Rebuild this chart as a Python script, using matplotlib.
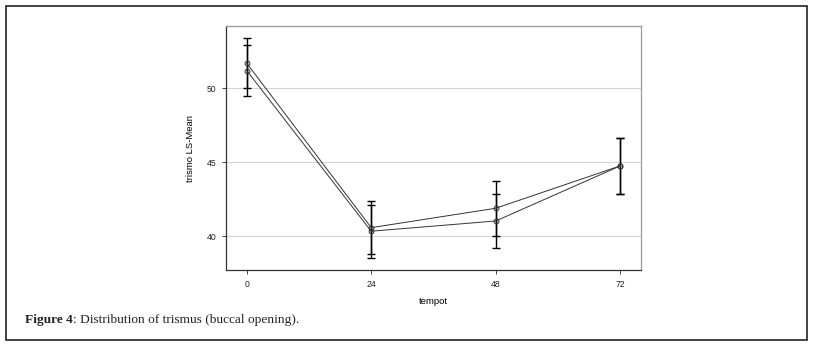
import matplotlib
matplotlib.use("Agg")
import matplotlib.pyplot as plt
from matplotlib.patches import Rectangle

# LS-means of trismus per time point, two groups
tempot = [0, 24, 48, 72]
mean_a = [51.69, 40.58, 41.89, 44.75]
mean_b = [51.19, 40.34, 41.03, 44.75]
err_a = [1.7, 1.8, 1.85, 1.9]
err_b = [1.7, 1.8, 1.85, 1.9]
yticks = [40, 45, 50]

plt.rcParams['font.family'] = ['Liberation Sans', 'DejaVu Sans']

fig = plt.figure(figsize=(8.14, 3.45), dpi=100)
ax = fig.add_axes([0.2776, 0.2174, 0.5098, 0.7072])

for m, e in [(mean_a, err_a), (mean_b, err_b)]:
    ax.errorbar(tempot, m, yerr=e, fmt='none', ecolor='black',
                elinewidth=1.0, capsize=3, capthick=1.0, zorder=2)
    ax.plot(tempot, m, color='#333333', linewidth=0.7, marker='o',
            markersize=3.5, markerfacecolor='none', markeredgecolor='#333333',
            markeredgewidth=0.7, zorder=3)

ax.set_xlim(-4, 76)
ax.set_ylim(37.72, 54.2)
ax.set_xticks(tempot)
ax.set_yticks(yticks)
ax.yaxis.grid(True, color='#d4d4d4', linewidth=0.8)
ax.set_axisbelow(True)
ax.tick_params(labelsize=6.2, length=3, width=0.6, pad=4, colors='#222222')
ax.set_xlabel('tempot', fontsize=6.8, labelpad=6)
ax.set_ylabel('trismo LS-Mean', fontsize=6.8, labelpad=8)
for s in ['left', 'bottom']:
    ax.spines[s].set_color('#333333')
    ax.spines[s].set_linewidth(0.9)
for s in ['top', 'right']:
    ax.spines[s].set_color('#999999')
    ax.spines[s].set_linewidth(0.9)

# outer frame
fig.patches.append(Rectangle((0.0074, 0.0145), 0.984, 0.968, transform=fig.transFigure,
                             fill=False, edgecolor='#222222', linewidth=1.2))

# caption with bold prefix
r = fig.canvas.get_renderer()
t1 = fig.text(0.031, 0.072, 'Figure 4', fontsize=9.6, fontweight='bold',
              family=['Liberation Serif'], va='center', color='#222222')
bb = t1.get_window_extent(renderer=r)
x2 = bb.x1 / fig.bbox.width
fig.text(x2, 0.072, ': Distribution of trismus (buccal opening).', fontsize=9.6,
         family=['Liberation Serif'], va='center', color='#222222')

fig.savefig('out.png', dpi=100)
